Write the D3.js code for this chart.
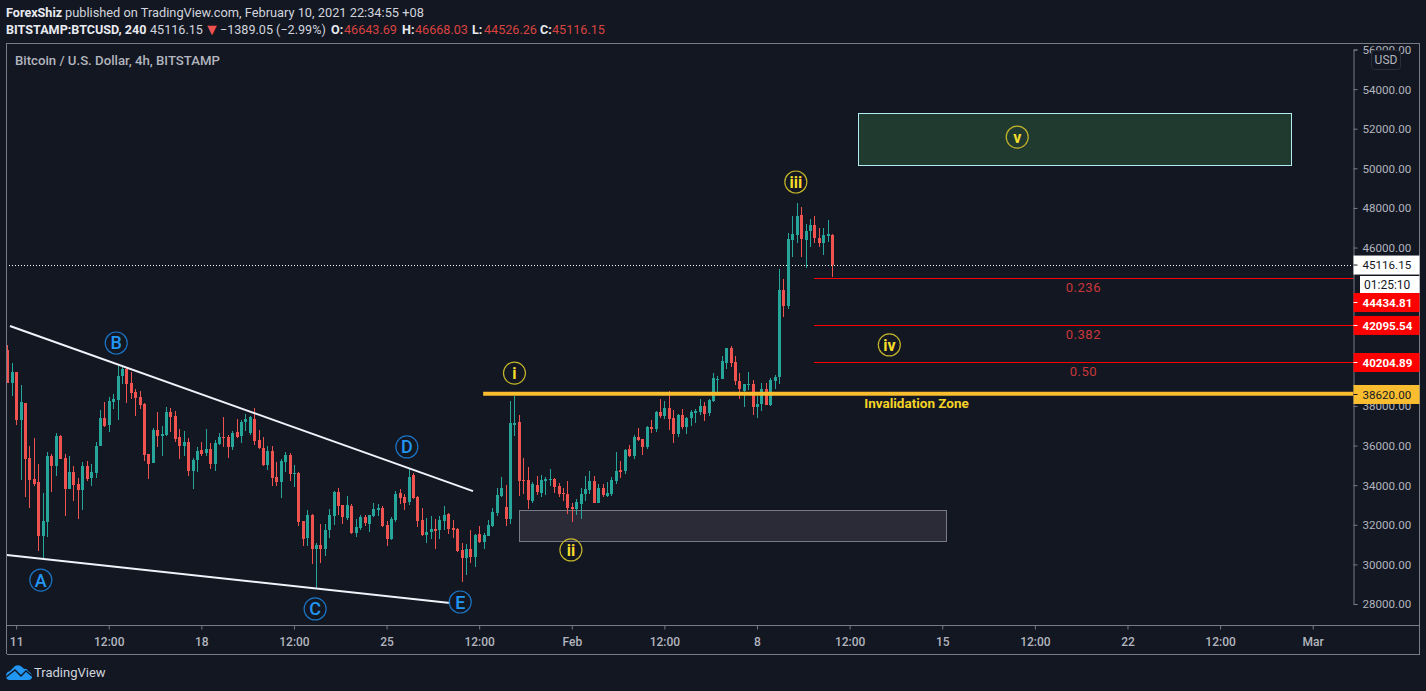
<!DOCTYPE html>
<html><head><meta charset="utf-8">
<style>html,body{margin:0;padding:0;background:#131722;overflow:hidden}svg{display:block}text{font-family:Roboto,"Noto Sans",sans-serif}</style>
<script src="https://cdn.jsdelivr.net/npm/d3@7"></script></head><body>
<svg id="c" width="1426" height="691"></svg>
<script>
const opens=[40830,39180,39730,37290,38135,35375,34315,34160,31435,32145,35475,34970,36485,35375,33810,34670,34060,33760,34970,34365,34615,35980,37395,37040,38200,38305,39515,39870,39160,38710,38455,38100,35575,35120,36790,36485,36535,37695,37495,36435,35980,36180,34720,35275,35780,35625,35830,35070,36080,36435,36435,35930,36690,36485,37190,36635,37345,36280,35880,35020,35725,34415,34160,35170,35525,34565,34615,32190,31335,32495,30780,30980,30780,31740,32445,33655,33000,32345,32950,31590,31840,32395,32040,32445,32750,32850,31990,31285,32245,33605,33405,33150,34515,33405,32240,31485,31640,31790,31740,32190,32545,31840,31790,30730,30325,30780,30375,31535,31130,31435,31940,32600,33455,32900,32295,37040,37190,34265,34265,33205,34010,33605,34210,34265,34315,33960,33605,33555,32900,32800,33050,33555,33760,34210,33100,33860,33455,33555,34210,34770,34720,35830,35475,36435,36335,35930,36940,36840,37695,37495,37900,37395,36585,37545,36940,37395,37645,37695,38000,37645,38255,39315,39365,40170,40930,40225,39265,38760,39060,39110,37950,38100,38860,38050,39265,39465,43860,43050,46385,46635,47645,46385,46835,47140,46485,46230,46585,46643.69];
const highs=[41080,40190,39730,39060,38170,35980,36385,35070,33605,35675,35575,36635,36535,35575,35475,34970,34365,35170,35225,35070,36180,37800,38200,38455,38605,40020,39970,39920,39715,38860,38755,38150,35575,36890,37695,36990,37950,37900,37750,36840,36740,36385,35375,35930,36180,36840,36130,36285,36635,37445,36535,36740,37340,37290,37595,37495,37900,36790,36435,35980,35980,35170,35325,35675,35625,35020,34665,32190,32750,32530,31080,32040,32040,32800,33710,33860,33000,33455,33050,32295,32495,32495,32495,33100,33050,32950,32190,32395,33710,33810,33555,34870,34615,33455,32850,32345,32445,32295,32445,32950,32595,32245,31840,31080,31030,31740,31535,31940,31585,32245,32850,33860,34415,34010,38250,38505,37545,35375,34920,34160,34465,34515,34415,34820,34365,34110,33860,34210,33100,33305,33860,34465,34720,34465,34060,34060,34160,34415,35675,35225,35830,36030,36535,36890,36335,36990,37290,37745,38355,38250,38755,37800,37595,37850,37445,37800,37850,38355,38200,38355,39670,39515,40525,40930,41030,40525,39670,39110,39720,39315,38505,39160,39160,39415,39565,44920,44415,46735,47595,48250,48050,47190,47445,47595,46990,46990,47390,46668.03];
const lows=[39180,38505,37040,34260,33420,32835,33960,30695,30325,31385,33660,34465,35325,32445,33810,33205,32295,32750,34215,33960,34365,35980,36940,36690,37850,37290,39110,38150,38355,37495,37850,35220,34315,35120,35930,35475,36485,36690,36180,35325,35475,34465,33810,34670,35475,35475,34820,34720,36030,35930,35375,35780,36385,36130,36740,36535,36030,35830,34970,34770,33960,33960,33355,34665,34210,33910,31940,30930,30930,30020,28810,30070,30425,31335,31990,32495,32040,32245,31535,31385,31740,31940,31640,32395,32445,31890,30930,31235,32140,33050,32750,33000,33305,31890,31435,31080,31285,30780,31285,31740,31535,31335,30630,29115,29465,30070,29870,31080,30780,31435,31890,32445,33405,31940,32040,36485,33455,33555,32800,33100,33505,33405,33505,33960,33605,33405,33205,32545,32140,32495,32295,33205,33555,33100,33100,33405,33405,33455,34060,34365,34565,35425,35325,36230,35525,35830,36635,36685,37395,37345,36790,36130,36435,36840,36585,36990,37140,37545,37240,37495,38205,38710,39365,39870,39970,39060,38355,37950,38810,37545,37395,37750,38050,38000,38860,39110,42495,42900,45525,46230,45525,44970,46030,46230,46030,45625,46280,44526.26];
const closes=[39180,39720,37290,38200,35325,34265,34060,31435,32195,35475,34970,36485,35325,33810,34670,34010,33760,34970,34315,34670,35980,37395,36990,38250,38355,39515,39870,39110,38660,38400,38050,35525,35070,36790,36485,36585,37695,37445,36335,35980,36180,34720,35275,35730,35575,35830,35070,36130,36435,36385,35930,36635,36435,37190,37345,37445,36230,35880,35020,35725,34365,34160,35220,35525,34565,34615,32140,31285,32495,30780,30980,30780,31740,32495,33655,32950,32395,33000,31590,31890,32395,32090,32495,32800,32850,31940,31285,32295,33555,33355,33100,34415,33355,32190,31485,31640,31790,31690,32240,32495,31790,31740,30680,30325,30780,30375,31485,31130,31485,31990,32650,33505,33860,32295,37140,37140,34210,34210,33255,34060,33660,34265,34315,34315,33910,33555,33555,32850,32800,33150,33555,33810,34210,33100,33860,33505,33605,34265,34720,34670,35780,35475,36435,36285,35930,36940,36840,37695,37495,37900,37345,36585,37545,36940,37395,37695,37745,38000,37595,38305,39415,39365,40275,40930,40170,39265,38860,39110,39110,37950,38100,38860,38050,39315,39465,43860,43050,46435,46685,47595,46435,46835,47140,46485,46230,46635,46685,45116.15];
const priceTicks=[28000,30000,32000,34000,36000,38000,46000,48000,50000,52000,54000,56000];
const timeIdx=[2,23,44,65,86,107,128,149,170,191,212,233,254,275,296];
const timeLabels=["11","12:00","18","12:00","25","12:00","Feb","12:00","8","12:00","15","12:00","22","12:00","Mar"];
const lastPrice=45116.15;
const upperTrendIdx=[0.6,105.6], upperTrendPrice=[42040,33700];
const lowerTrendIdx=[-0.1,100.4], lowerTrendPrice=[30475,28050];
const waveLabels=["A","B","C","D","E"];
const waveIdx=[7.6,24.7,69.8,90.6,102.7];
const wavePrice=[29210,41180,27750,35930,28100];
const romanLabels=["i","ii","iii","iv","v"];
const romanIdx=[115,127.8,178.8,200,229];
const romanPrice=[39660,30730,49310,41080,51580];
const fibLevels=[44434.81,42095.54,40204.89];
const fibNames=["0.236","0.382","0.50"];
const fibNamePrice=[43985,41615,39755];
const invalidPrice=38620;

const W=1426,H=691,L=6.5,R=1353.5,T=43.5,B=625.5,RO=1419.5,BO=654;
const BG="#131722",UP="#26a69a",DN="#ef5350",AX="#787b86",TXT="#b2b5be";
const svg=d3.select("#c");
svg.append("rect").attr("width",W).attr("height",H).attr("fill",BG);
const x=d3.scaleLinear().domain([0,296]).range([7.3,1312.7]);
const y=d3.scaleLinear().domain([28000,56000]).range([604,49.5]);
svg.append("defs").append("clipPath").attr("id","plot").append("rect").attr("x",L).attr("y",T).attr("width",R-L).attr("height",B-T);
const plot=svg.append("g").attr("clip-path","url(#plot)");

/* drawn zones beneath candles */
const boxes=[{i0:193,i1:291.2,p0:52780,p1:50150,f:"#213a30",s:"#b2ebf2"},{i0:116,i1:212.9,p0:32760,p1:31170,f:"#2a2b37",s:"#787b86"}];
plot.selectAll(".bx").data(boxes).join("rect").attr("x",d=>Math.round(x(d.i0))+.5).attr("y",d=>Math.round(y(d.p0))+.5).attr("width",d=>Math.round(x(d.i1)-x(d.i0))).attr("height",d=>Math.round(y(d.p1)-y(d.p0))).attr("fill",d=>d.f).attr("stroke",d=>d.s).attr("stroke-width",1).attr("shape-rendering","crispEdges");

/* last price line */
plot.append("line").attr("x1",6).attr("x2",R).attr("y1",Math.round(y(lastPrice))+.5).attr("y2",Math.round(y(lastPrice))+.5).attr("stroke","#fff").attr("stroke-dasharray","1 2").attr("shape-rendering","crispEdges");

/* candles */
const idx=d3.range(opens.length);
const col=i=>closes[i]>=opens[i]?UP:DN;
const cg=plot.append("g").attr("shape-rendering","crispEdges");
cg.selectAll(".w").data(idx).join("line").attr("x1",i=>Math.round(x(i))+.5).attr("x2",i=>Math.round(x(i))+.5).attr("y1",i=>y(highs[i])).attr("y2",i=>y(lows[i])).attr("stroke",col);
cg.selectAll(".b").data(idx).join("rect").attr("x",i=>Math.round(x(i))-1).attr("width",3).attr("y",i=>y(Math.max(opens[i],closes[i]))).attr("height",i=>Math.max(1,Math.abs(y(opens[i])-y(closes[i])))).attr("fill",col);

/* trend lines */
plot.append("line").attr("x1",x(upperTrendIdx[0])).attr("x2",x(upperTrendIdx[1])).attr("y1",y(upperTrendPrice[0])).attr("y2",y(upperTrendPrice[1])).attr("stroke","#f0f3fa").attr("stroke-width",2);
plot.append("line").attr("x1",x(lowerTrendIdx[0])).attr("x2",x(lowerTrendIdx[1])).attr("y1",y(lowerTrendPrice[0])).attr("y2",y(lowerTrendPrice[1])).attr("stroke","#f0f3fa").attr("stroke-width",2);

/* fib lines */
plot.selectAll(".fib").data(fibLevels).join("line").attr("x1",x(183)).attr("x2",R).attr("y1",d=>Math.round(y(d)-0.2)+.5).attr("y2",d=>Math.round(y(d)-0.2)+.5).attr("stroke","#ff0000").attr("shape-rendering","crispEdges");
plot.selectAll(".fibt").data(fibNames).join("text").attr("x",x(244)).attr("y",(d,i)=>y(fibNamePrice[i])).attr("text-anchor","middle").attr("dy","0.35em").attr("fill","#c8383a").attr("font-size",13).attr("letter-spacing",.5).text(d=>d);

/* invalidation */
plot.append("line").attr("x1",x(107.9)).attr("x2",R).attr("y1",y(invalidPrice)).attr("y2",y(invalidPrice)).attr("stroke","#f9bd2f").attr("stroke-width",4);
plot.append("text").attr("x",x(194.3)).attr("y",y(invalidPrice)+14).attr("fill","#f5d327").attr("font-size",13.5).attr("font-weight",700).text("Invalidation Zone");

/* wave labels */
function marks(labels,ix,pr,stroke,fill,weight){
 const g=plot.selectAll(null).data(labels).join("g").attr("transform",(d,i)=>`translate(${x(ix[i])},${y(pr[i])})`);
 g.append("circle").attr("r",11).attr("fill","none").attr("stroke",stroke).attr("stroke-width",1.2);
 g.append("text").attr("text-anchor","middle").attr("dy","0.36em").attr("fill",fill).attr("font-size",weight==700?16:18).attr("font-weight",weight).text(d=>d);
}
marks(waveLabels,waveIdx,wavePrice,"#1c74c4","#2196f3",500);
marks(romanLabels,romanIdx,romanPrice,"#c2b32a","#f5dc2b",700);

/* frame */
const fr=svg.append("g").attr("stroke",AX).attr("fill","none").attr("shape-rendering","crispEdges");
fr.append("path").attr("d",`M${L} ${BO}V${T}H${RO}V${BO}H${L}M${L} ${B}H${RO}`);

/* axes */
const ya=d3.axisRight(y).tickValues(priceTicks).tickFormat(d3.format(".2f")).tickSize(4).tickPadding(5);
const yg=svg.append("g").attr("transform",`translate(${R},0)`).call(ya);
yg.select(".domain").attr("stroke",AX);
yg.selectAll("line").attr("stroke",AX);
yg.selectAll("text").attr("fill",TXT).attr("font-size",11.6).attr("font-family","Roboto").attr("dy","0.34em");
const xa=d3.axisBottom(x).tickValues(timeIdx).tickFormat((d,i)=>timeLabels[i]).tickSize(4).tickPadding(8);
const xg=svg.append("g").attr("transform",`translate(0,${B})`).call(xa);
xg.select(".domain").remove();
xg.selectAll("line").attr("stroke",AX);
xg.selectAll("text").attr("fill",TXT).attr("font-size",12).attr("font-weight",500).attr("font-family","Roboto");

/* price tags */
const tags=[{p:lastPrice,t:"45116.15",f:"#ffffff",c:"#131722",w:400,o:0},{p:fibLevels[0],t:"44434.81",f:"#ff0000",c:"#ffffff",w:700,o:24},{p:fibLevels[1],t:"42095.54",f:"#ff0000",c:"#ffffff",w:700,o:.6},{p:fibLevels[2],t:"40204.89",f:"#ff0000",c:"#ffffff",w:700,o:.2},{p:invalidPrice,t:"38620.00",f:"#f9bd2f",c:"#131722",w:400,o:.8}];
const tg=svg.selectAll(".tag").data(tags).join("g").attr("transform",d=>`translate(${R},${y(d.p)+d.o})`);
tg.append("rect").attr("x",0).attr("y",-9.5).attr("width",RO-R).attr("height",19).attr("fill",d=>d.f);
tg.append("line").attr("x1",0).attr("x2",4).attr("stroke",d=>d.c);
tg.append("text").attr("x",9).attr("dy","0.36em").attr("fill",d=>d.c).attr("font-size",11.6).attr("font-weight",d=>d.w).text(d=>d.t);
svg.append("rect").attr("x",1360).attr("y",276).attr("width",RO-1360).attr("height",17).attr("fill","#fff");
svg.append("text").attr("x",1364).attr("y",289).attr("fill","#131722").attr("font-size",12).text("01:25:10");
svg.append("rect").attr("x",1371.5).attr("y",50.5).attr("width",29).attr("height",19).attr("rx",3).attr("fill",BG).attr("stroke","#2a2e39");
svg.append("text").attr("x",1386).attr("y",64).attr("text-anchor","middle").attr("fill",TXT).attr("font-size",12).text("USD");

/* header */
const hd=(xp,yp,t,c,w,s)=>svg.append("text").attr("x",xp).attr("y",yp).attr("fill",c).attr("font-size",s||12.6).attr("font-weight",w||400).text(t);
hd(6,17,"ForexShiz","#e8eaf0",700,12.6);
hd(65,17,"published on TradingView.com, February 10, 2021 22:34:55 +08","#d1d4dc",400,12.8);
hd(6,34,"BITSTAMP:BTCUSD, 240","#e8eaf0",700);
hd(150,34,"45116.15","#d1d4dc");
hd(204,35,"▼",DN,400,16);
hd(220,34,"−1389.05 (−2.99%)","#d1d4dc");
const ohlcKeys=["O:","H:","L:","C:"],ohlcVals=["46643.69","46668.03","44526.26","45116.15"],ohlcKx=[331,402,472,540],ohlcVx=[344,415,484,552];
ohlcKeys.forEach((k,i)=>{hd(ohlcKx[i],34,k,"#e8eaf0",700);hd(ohlcVx[i],34,ohlcVals[i],"#d8433f");});
svg.append("text").attr("x",15).attr("y",65).attr("fill",TXT).attr("font-size",13.2).attr("font-weight",500).text("Bitcoin / U.S. Dollar, 4h, BITSTAMP");

/* footer logo */
const lg=svg.append("g");
lg.append("path").attr("fill","#2196f3").attr("d","M6 676Q6 672 10 671L15 666Q19 664 22 667L24 669Q27 668 28 671Q32 673 32 677Q32 680 28 680H10Q6 680 6 676Z");
lg.append("path").attr("fill","none").attr("stroke",BG).attr("stroke-width",1.4).attr("d","M6 677L15 670L21 676L26 671L32 676");
svg.append("text").attr("x",34).attr("y",677).attr("fill","#d1d4dc").attr("font-size",13).text("TradingView");
</script></body></html>
